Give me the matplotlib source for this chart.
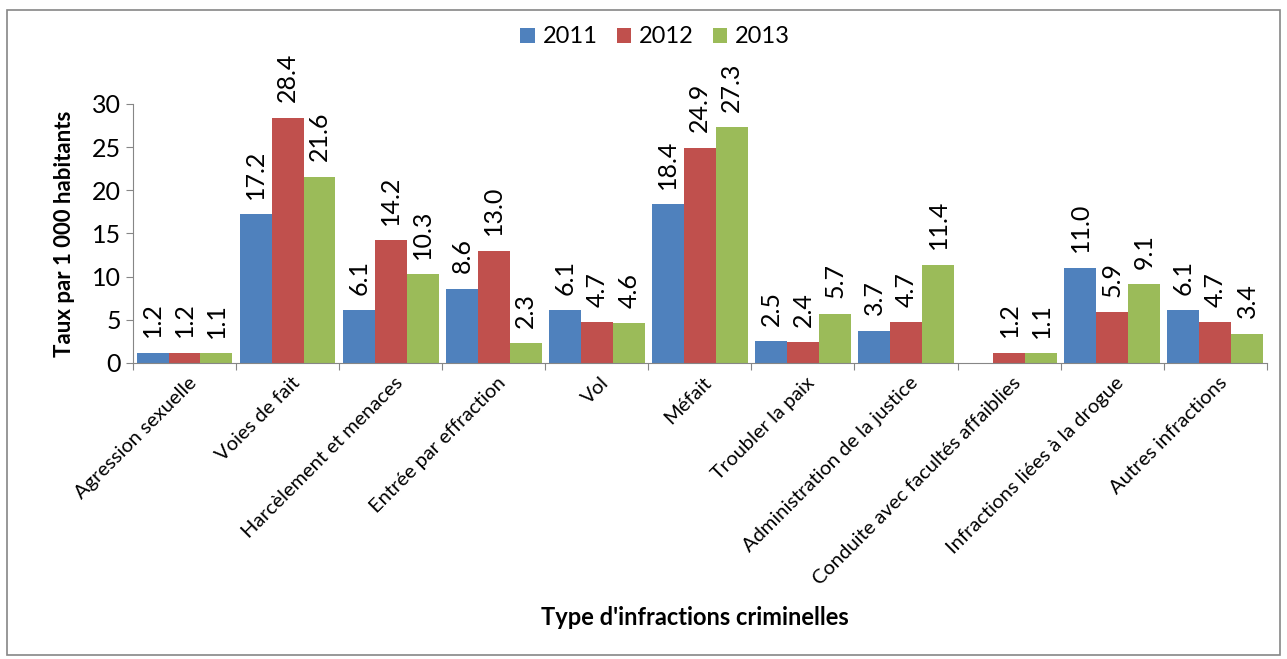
import matplotlib
matplotlib.use('Agg')
import matplotlib.pyplot as plt
import numpy as np
from matplotlib.patches import Rectangle

categories = [
    'Agression sexuelle', 'Voies de fait', 'Harcèlement et menaces',
    'Entrée par effraction', 'Vol', 'Méfait', 'Troubler la paix',
    'Administration de la justice', 'Conduite avec facultés affaiblies',
    'Infractions liées à la drogue', 'Autres infractions',
]
years = ['2011', '2012', '2013']
v2011 = [1.2, 17.2, 6.1, 8.6, 6.1, 18.4, 2.5, 3.7, np.nan, 11.0, 6.1]
v2012 = [1.2, 28.4, 14.2, 13.0, 4.7, 24.9, 2.4, 4.7, 1.2, 5.9, 4.7]
v2013 = [1.1, 21.6, 10.3, 2.3, 4.6, 27.3, 5.7, 11.4, 1.1, 9.1, 3.4]
colors = ['#4f81bd', '#c0504d', '#9bbb59']

plt.rcParams['font.family'] = ['Lato', 'DejaVu Sans']

fig = plt.figure(figsize=(12.87, 6.59), dpi=100)
ax = fig.add_axes([0.1033, 0.4492, 0.881, 0.393])

x = np.arange(len(categories))
width = 0.31
for i, (vals, year, c) in enumerate(zip([v2011, v2012, v2013], years, colors)):
    pos = x + (i - 1) * width
    ax.bar(pos, vals, width, color=c, label=year)
    for p, v in zip(pos, vals):
        if np.isnan(v):
            continue
        ax.text(p, v + 1.8, f'{v:.1f}', rotation=90, ha='center', va='bottom', fontsize=18)

ax.set_xlim(-0.5, len(categories) - 0.5)
ax.set_ylim(0, 30)
ax.set_yticks(range(0, 31, 5))
ax.set_xticks(np.arange(-0.5, len(categories), 1.0))
ax.set_xticklabels([])
ax.tick_params(axis='x', length=5, color='#868686')
ax.tick_params(axis='y', length=5, color='#868686', labelsize=18)
for s in ['top', 'right']:
    ax.spines[s].set_visible(False)
for s in ['left', 'bottom']:
    ax.spines[s].set_color('#868686')

for xi, lab in zip(x, categories):
    ax.text(xi + 0.03, -1.3, lab, rotation=45, ha='right', va='top',
            rotation_mode='anchor', fontsize=14.5)

ax.set_ylabel('Taux par 1 000 habitants', fontsize=16, fontweight='bold', labelpad=12)
fig.text(0.54, 0.063, "Type d'infractions criminelles", ha='center', va='center',
         fontsize=17, fontweight='bold')

ax.legend(loc='center', bbox_to_anchor=(0.5092, 0.944), bbox_transform=fig.transFigure,
          ncol=3, frameon=False, fontsize=17, handlelength=0.6, handleheight=0.6,
          handletextpad=0.35, columnspacing=0.8)

fig.patches.append(Rectangle((7 / 1287, 4 / 659), 1273 / 1287, 645 / 659,
                             transform=fig.transFigure, fill=False,
                             edgecolor='#868686', linewidth=1.2))

fig.savefig('out.png', dpi=100)
